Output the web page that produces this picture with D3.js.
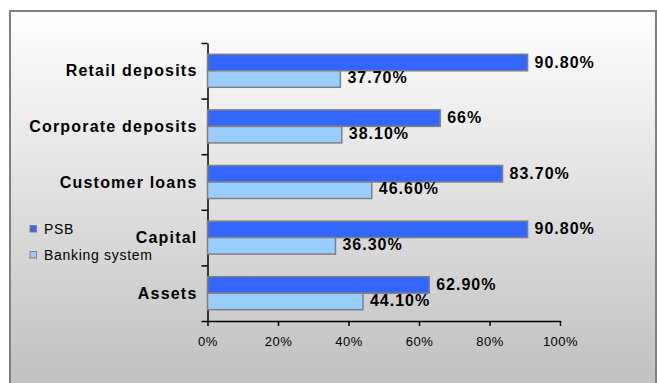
<!DOCTYPE html>
<html>
<head>
<meta charset="utf-8">
<script src="https://cdn.jsdelivr.net/npm/d3@7"></script>
<style>
  body { margin: 0; background: #fff; }
  svg { display: block; font-family: Arial, "Liberation Sans", sans-serif; }
</style>
</head>
<body>
<svg width="657" height="383"></svg>
<script>
// data
let categories = ["Retail deposits", "Corporate deposits", "Customer loans", "Capital", "Assets"];
let series = ["PSB", "Banking system"];
let psbValues = [90.8, 66, 83.7, 90.8, 62.9];
let bankingValues = [37.7, 38.1, 46.6, 36.3, 44.1];
let psbLabels = ["90.80%", "66%", "83.70%", "90.80%", "62.90%"];
let bankingLabels = ["37.70%", "38.10%", "46.60%", "36.30%", "44.10%"];
let xTicks = [0, 20, 40, 60, 80, 100];
let colors = ["#3366ff", "#99ccff"];

let svg = d3.select("svg");

// background panel with grey gradient
let defs = svg.append("defs");
let grad = defs.append("linearGradient")
    .attr("id", "bg")
    .attr("x1", 0).attr("y1", 0).attr("x2", 0).attr("y2", 1);
grad.append("stop").attr("offset", "0%").attr("stop-color", "#ffffff");
grad.append("stop").attr("offset", "100%").attr("stop-color", "#c0c0c0");

svg.append("rect")
    .attr("x", 10).attr("y", 11)
    .attr("width", 646).attr("height", 375)
    .attr("fill", "url(#bg)")
    .attr("stroke", "#808080")
    .attr("stroke-width", 2);

let margin = { top: 43, left: 207.5 },
    width = 352.5,
    height = 278;

let g = svg.append("g")
    .attr("transform", "translate(" + margin.left + "," + margin.top + ")");

let x = d3.scaleLinear().domain([0, 100]).range([0, width]);
let y = d3.scaleBand().domain(categories).range([0, height]);
let ySub = d3.scaleBand().domain(series).range([11.3, y.bandwidth() - 11.3]);

// y axis: ticks on category boundaries
let yEdge = d3.scaleLinear().domain([0, categories.length]).range([0, height]);
g.append("g")
    .classed("axis axis--y", true)
    .call(d3.axisLeft(yEdge).tickValues(d3.range(categories.length + 1)).tickFormat("").tickSize(6).tickSizeOuter(0))
    .call(a => a.selectAll("line, path").attr("stroke", "#000").attr("stroke-width", 1.5));

g.append("g")
    .classed("axis axis--x", true)
    .attr("transform", "translate(0," + height + ")")
    .call(d3.axisBottom(x).tickValues(xTicks).tickFormat(d => d + "%").tickSize(5).tickSizeOuter(0))
    .call(a => a.selectAll("line, path").attr("stroke", "#000").attr("stroke-width", 1.5))
    .call(a => a.selectAll("text")
        .attr("y", 21)
        .attr("dy", "0.32em")
        .style("font-size", "13px")
        .style("letter-spacing", "0.5px")
        .attr("fill", "#000"));

// category labels
g.selectAll(".cat")
    .data(categories)
    .enter()
    .append("text")
    .classed("cat", true)
    .attr("x", -10)
    .attr("y", d => y(d) + y.bandwidth() / 2)
    .attr("dy", "0.35em")
    .attr("text-anchor", "end")
    .style("font-size", "16px")
    .style("font-weight", "bold")
    .style("letter-spacing", "1.2px")
    .text(d => d);

let rows = categories.map((c, i) => ({
    cat: c,
    vals: [
        { s: series[0], v: psbValues[i], label: psbLabels[i] },
        { s: series[1], v: bankingValues[i], label: bankingLabels[i] }
    ]
}));

let groups = g.selectAll(".grp")
    .data(rows)
    .enter()
    .append("g")
    .classed("grp", true)
    .attr("transform", d => "translate(0," + y(d.cat) + ")");

groups.selectAll("rect")
    .data(d => d.vals)
    .enter()
    .append("rect")
    .attr("x", x(0))
    .attr("y", d => ySub(d.s))
    .attr("width", d => x(d.v) - x(0))
    .attr("height", ySub.bandwidth())
    .attr("fill", (d, i) => colors[i])
    .attr("stroke", "#808080")
    .attr("stroke-width", 1.5);

groups.selectAll(".val")
    .data(d => d.vals)
    .enter()
    .append("text")
    .classed("val", true)
    .attr("x", d => x(d.v) + 7)
    .attr("y", (d, i) => ySub(d.s) + ySub.bandwidth() / 2 - (i === 0 ? 0.5 : 1.5))
    .attr("dy", "0.35em")
    .style("font-size", "16px")
    .style("font-weight", "bold")
    .style("letter-spacing", "1px")
    .text(d => d.label);

// legend
let legend = svg.append("g")
    .attr("transform", "translate(30,229)");

let items = legend.selectAll(".item")
    .data(series)
    .enter()
    .append("g")
    .classed("item", true)
    .attr("transform", (d, i) => "translate(0," + i * 26 + ")");

items.append("rect")
    .attr("x", 0).attr("y", -3.5)
    .attr("width", 6.5).attr("height", 6.5)
    .attr("fill", (d, i) => colors[i])
    .attr("stroke", "#808080")
    .attr("stroke-width", 1);

items.append("text")
    .attr("x", 14)
    .attr("y", 0)
    .attr("dy", "0.35em")
    .style("font-size", "14px")
    .style("letter-spacing", "0.7px")
    .text(d => d);
</script>
</body>
</html>
